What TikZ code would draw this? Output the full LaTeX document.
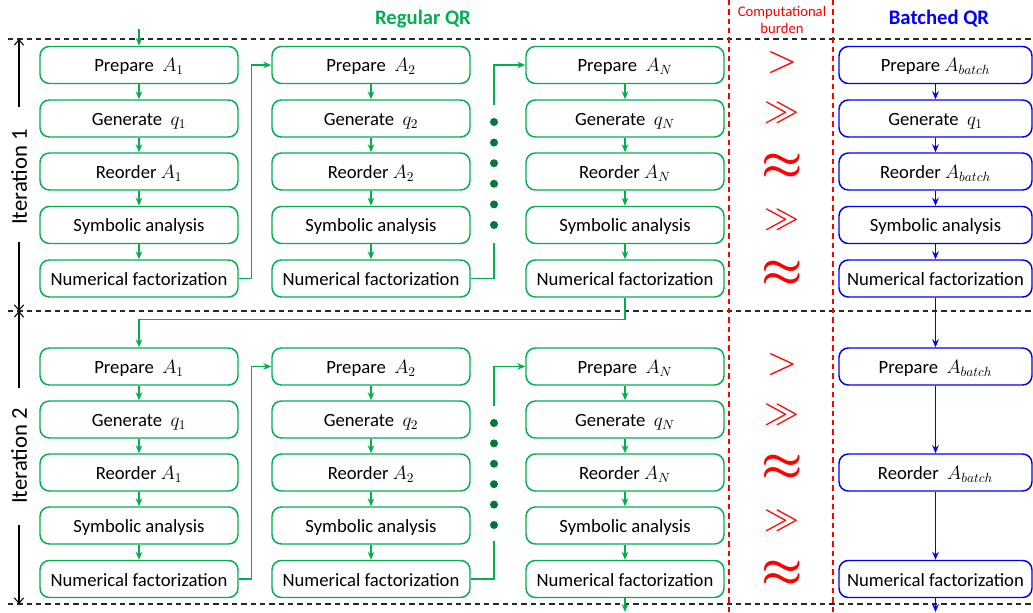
\documentclass[tikz,border=0pt]{standalone}
\usepackage{fontspec}
\usepackage{graphicx}
\setmainfont{Carlito}
\usetikzlibrary{arrows.meta,calc}
\definecolor{qg}{RGB}{0,176,80}
\definecolor{dg}{RGB}{0,120,55}
\definecolor{qb}{RGB}{0,0,255}
\definecolor{qr}{RGB}{255,0,0}
\definecolor{dk}{RGB}{40,40,40}
\tikzset{
  gbox/.style={draw=qg, line width=1.1pt, rounded corners=7pt, minimum width=148.5pt,
    minimum height=27.75pt, inner sep=0pt, text height=12pt, text depth=1.5pt,
    font=\fontsize{14}{16}\selectfont},
  bbox/.style={gbox, draw=qb, minimum width=144.75pt},
  garr/.style={qg, line width=0.9pt, -{Stealth[length=6pt,width=5pt]}},
  gline/.style={qg, line width=0.9pt},
  barr/.style={qb, line width=0.9pt, -{Stealth[length=6pt,width=5pt]}},
  hdash/.style={dk, line width=0.8pt, dash pattern=on 4pt off 3pt},
  vdash/.style={qr, line width=0.8pt, dash pattern=on 4pt off 3pt},
  iterarr/.style={black, line width=0.8pt, -{Straight Barb[length=4pt,width=7pt]}},
  relsym/.style={qr, inner sep=0pt, font=\fontsize{24}{26}\selectfont},
  gdot/.style={fill=dg, circle, inner sep=0pt, minimum size=6pt},
}
\newcommand\relGT{\scalebox{1.2}{$>$}}
\newcommand\relGG{\scalebox{1.05}{$\gg$}}
\newcommand\relAP{\scalebox{1.4}{\boldmath$\approx$}}
\begin{document}
\begin{tikzpicture}[x=0.75pt,y=-0.75pt]
\useasboundingbox (0,0) rectangle (1033,613);

% titles
\node[font=\fontsize{15.5}{17}\selectfont\bfseries, text=qg] (t1) at (423,19) {Regular QR};
\node[font=\fontsize{15.5}{17}\selectfont\bfseries, text=qb] (t2) at (939,19) {Batched QR};
\node[font=\fontsize{11}{12.5}\selectfont, text=qr, align=center] (t3) at (782,20) {Computational\\burden};

% dashed separators
\draw[hdash] (8,39) -- (1033,39);
\draw[hdash] (8,311) -- (1033,311);
\draw[hdash] (8,604) -- (1033,604);
\draw[vdash] (729,0) -- (729,613);
\draw[vdash] (833,0) -- (833,613);

% iteration labels
\node[rotate=90, font=\fontsize{17}{19}\selectfont] (it1) at (19,177) {Iteration 1};
\node[rotate=90, font=\fontsize{17}{19}\selectfont] (it2) at (19,456) {Iteration 2};
\coordinate (i1a) at (19,107); \coordinate (i1t) at (19,39);
\coordinate (i1b) at (19,242); \coordinate (i1m) at (19,311);
\coordinate (i2a) at (19,388);
\coordinate (i2b) at (19,525); \coordinate (i2e) at (19,604);
\draw[iterarr] (i1a) -- (i1t);
\draw[iterarr] (i1b) -- (i1m);
\draw[iterarr] (i2a) -- (i1m);
\draw[iterarr] (i2b) -- (i2e);

% regular QR boxes
\foreach \c/\x/\s in {1/139/1,2/371/2,3/625/N}{
  \foreach \i/\ya/\yb/\yc/\yd/\ye in {1/65/118.5/171.5/225/278.5, 2/366.5/419.5/472.5/525.5/579}{
    \node[gbox] (P\c\i) at (\x,\ya) {Prepare\ \ $A_{\s}$};
    \node[gbox] (G\c\i) at (\x,\yb) {Generate\ \ $q_{\s}$};
    \node[gbox] (R\c\i) at (\x,\yc) {Reorder\ $A_{\s}$};
    \node[gbox] (S\c\i) at (\x,\yd) {Symbolic analysis};
    \node[gbox] (N\c\i) at (\x,\ye) {Numerical factorization};
    \draw[garr] (P\c\i) -- (G\c\i);
    \draw[garr] (G\c\i) -- (R\c\i);
    \draw[garr] (R\c\i) -- (S\c\i);
    \draw[garr] (S\c\i) -- (N\c\i);
  }
}

% batched QR boxes
\node[bbox] (PB1) at (935.5,65) {Prepare\ $A_{batch}$};
\node[bbox] (GB1) at (935.5,118.5) {Generate\ \ $q_1$};
\node[bbox] (RB1) at (935.5,171.5) {Reorder\ $A_{batch}$};
\node[bbox] (SB1) at (935.5,225) {Symbolic analysis};
\node[bbox] (NB1) at (935.5,278.5) {Numerical factorization};
\node[bbox] (PB2) at (935.5,366.5) {Prepare\ \ $A_{batch}$};
\node[bbox] (RB2) at (935.5,472.5) {Reorder\ \ $A_{batch}$};
\node[bbox] (NB2) at (935.5,579) {Numerical factorization};
\draw[barr] (PB1) -- (GB1);
\draw[barr] (GB1) -- (RB1);
\draw[barr] (RB1) -- (SB1);
\draw[barr] (SB1) -- (NB1);
\draw[barr] (NB1) -- (PB2);
\draw[barr] (PB2) -- (RB2);
\draw[barr] (RB2) -- (NB2);
\coordinate (bend) at (935.5,612);
\draw[barr] (NB2) -- (bend);

% entry / exit
\coordinate (start) at (139,29);
\draw[garr] (start) -- (P11);
\coordinate (gend) at (625,612);
\draw[garr] (N32) -- (gend);

% column transitions
\foreach \i in {1,2}{
  \draw[garr] (N1\i.east) -- ++(13,0) |- (P2\i.west);
}
% col2 -> col3 with dots, iteration 1
\coordinate (d1a) at (494,278.5); \coordinate (d1b) at (494,243);
\coordinate (d1c) at (494,105);
\draw[gline] (N21.east) -- (d1a) -- (d1b);
\draw[garr] (d1c) |- (P31.west);
\foreach \k in {0,...,5}{\node[gdot] (dA\k) at (494,122+20.6*\k) {};}
% iteration 2
\coordinate (d2a) at (494,579); \coordinate (d2b) at (494,541);
\coordinate (d2c) at (494,406);
\draw[gline] (N22.east) -- (d2a) -- (d2b);
\draw[garr] (d2c) |- (P32.west);
\foreach \k in {0,...,5}{\node[gdot] (dB\k) at (494,423+20.4*\k) {};}

% iteration 1 -> iteration 2
\draw[garr] (N31.south) -- ++(0,22) -| (P12.north);

% computational burden symbols
\foreach \i/\ya/\yb/\yc/\yd/\ye in {1/63/113/166.5/220/273.5, 2/364.5/414.5/467.5/520.5/574}{
  \node[relsym] (cgt\i) at (782,\ya) {\relGT};
  \node[relsym] (cgg\i) at (782,\yb) {\relGG};
  \node[relsym] (cap\i) at (782,\yc) {\relAP};
  \node[relsym] (cgs\i) at (782,\yd) {\relGG};
  \node[relsym] (can\i) at (782,\ye) {\relAP};
}
\end{tikzpicture}
\end{document}
